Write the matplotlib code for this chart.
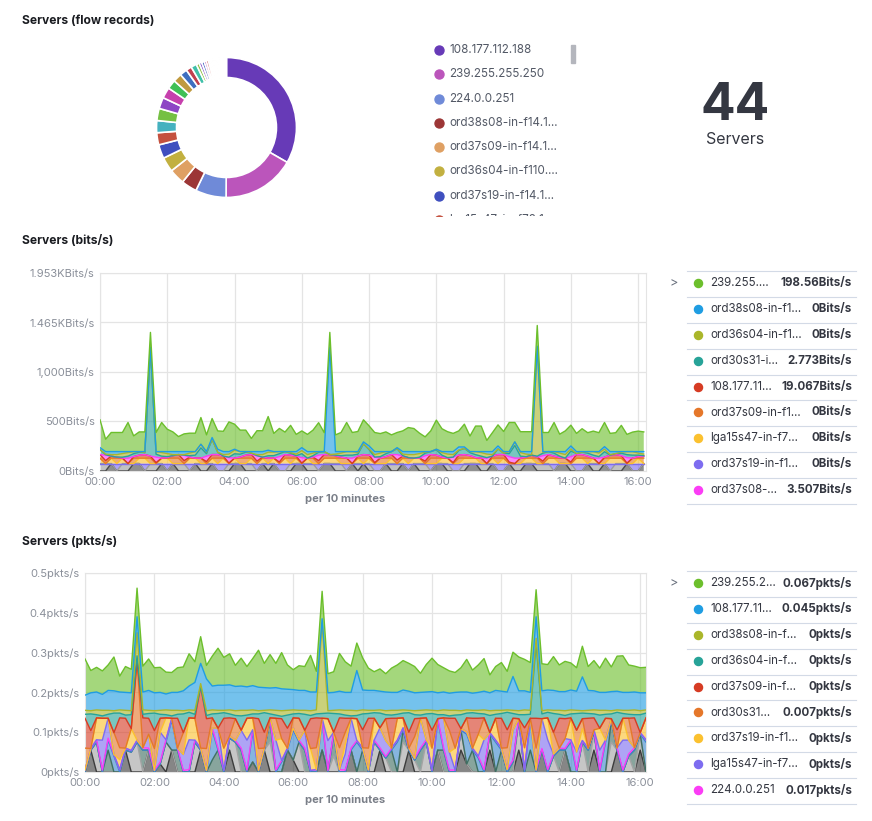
import matplotlib
matplotlib.use("Agg")
import matplotlib.pyplot as plt
import numpy as np

plt.rcParams['font.family'] = ['Inter', 'DejaVu Sans']

W, H = 872, 821
INK = '#343741'
MUTED = '#8a8f99'
GRID = '#e4e4e4'

# ---------------- donut: servers by flow records ----------------
donut_values = [33.3, 16.8, 7.1, 3.6, 3.6, 3.4, 3.2, 2.8, 2.8, 2.8, 2.6, 2.5, 2.1, 2.0, 1.7, 1.3, 1.3,
                0.7, 0.6, 0.6, 0.5, 0.5, 0.4, 0.3, 0.3,
                0.25, 0.25, 0.22, 0.2, 0.2, 0.2, 0.18, 0.18, 0.17, 0.17, 0.16, 0.15, 0.15, 0.14,
                0.13, 0.12, 0.12, 0.11, 0.1]
donut_colors = ['#673ab7', '#bb55bb', '#6f8ad8', '#9c3636', '#dfa063', '#c2b040', '#3f4fbf', '#c4513f',
                '#45b1bf', '#75c043', '#8e45c5', '#c640ad', '#40c055', '#c09a3f', '#3f6fc0', '#c0404f',
                '#40c0aa', '#8fc040', '#7a40c0', '#4060c0', '#c040a0', '#c04040', '#40b0c0', '#60c040',
                '#d0c060', '#a0c060', '#c0a040', '#6080d0', '#c060c0', '#60c0b0', '#d08060', '#80c060',
                '#9070d0', '#d06090', '#60a0d0', '#c0c060', '#70d070', '#d07070', '#7070d0', '#d0a070',
                '#70d0c0', '#b070d0', '#d0d070', '#70b0d0']
donut_legend = ['108.177.112.188', '239.255.255.250', '224.0.0.251', 'ord38s08-in-f14.1...',
                'ord37s09-in-f14.1...', 'ord36s04-in-f110....', 'ord37s19-in-f14.1...',
                'lga15s47-in-f78.1e...']
server_count = 44

# ---------------- time axis (10 minute buckets) ----------------
minutes = [i * 10 for i in range(98)]
hour_ticks = [0, 120, 240, 360, 480, 600, 720, 840, 960]
hour_labels = ['00:00', '02:00', '04:00', '06:00', '08:00', '10:00', '12:00', '14:00', '16:00']

# ---------------- bits/s series (bottom -> top of the stack) ----------------
bits_dkgray = [0, 0, 75, 0, 0, 0, 75, 75, 0, 0,
               0, 75, 0, 75, 0, 0, 0, 75, 0, 0,
               75, 0, 0, 0, 75, 75, 0, 0, 0, 75,
               0, 75, 0, 0, 0, 75, 75, 0, 0, 0,
               75, 75, 0, 0, 0, 75, 0, 75, 0, 0,
               0, 75, 0, 0, 75, 0, 75, 0, 0, 0,
               75, 75, 0, 0, 0, 0, 75, 75, 0, 0,
               75, 0, 0, 75, 0, 0, 75, 75, 0, 0,
               0, 0, 75, 75, 0, 0, 0, 75, 0, 0,
               75, 0, 0, 0, 75, 0, 0, 75]
bits_gray = [75, 75, 0, 0, 75, 75, 0, 0, 0, 75,
             75, 0, 0, 0, 75, 75, 0, 0, 75, 75,
             0, 0, 0, 75, 0, 0, 75, 75, 0, 0,
             75, 0, 0, 0, 75, 0, 0, 75, 75, 0,
             0, 0, 75, 75, 0, 0, 75, 0, 75, 0,
             0, 0, 75, 75, 0, 0, 0, 75, 75, 0,
             0, 0, 75, 0, 0, 75, 0, 0, 75, 75,
             0, 0, 0, 0, 75, 75, 0, 0, 75, 75,
             75, 0, 0, 0, 75, 0, 0, 0, 75, 75,
             0, 0, 75, 75, 0, 0, 0, 0]
bits_violet = [0, 0, 0, 75, 0, 0, 0, 0, 75, 0,
               0, 0, 75, 0, 0, 0, 75, 0, 0, 0,
               0, 75, 75, 0, 0, 0, 0, 0, 75, 0,
               0, 0, 75, 75, 0, 0, 0, 0, 0, 75,
               0, 0, 0, 0, 75, 0, 0, 0, 0, 75,
               75, 0, 0, 0, 0, 75, 0, 0, 0, 75,
               0, 0, 0, 75, 75, 0, 0, 0, 0, 0,
               0, 75, 75, 0, 0, 0, 0, 0, 0, 0,
               0, 75, 0, 0, 0, 75, 75, 0, 0, 0,
               0, 75, 0, 0, 0, 75, 75, 0]
bits_yellow = [55, 0, 55, 0, 55, 0, 0, 55, 55, 0,
               0, 55, 55, 0, 0, 0, 55, 55, 0, 0,
               55, 0, 55, 0, 55, 0, 0, 55, 0, 55,
               0, 55, 0, 55, 0, 55, 0, 55, 0, 0,
               55, 55, 55, 0, 0, 0, 55, 0, 55, 0,
               0, 0, 55, 0, 55, 0, 55, 55, 0, 0,
               0, 55, 55, 0, 0, 55, 55, 55, 0, 0,
               55, 0, 55, 0, 0, 0, 55, 55, 0, 0,
               55, 55, 0, 0, 0, 55, 55, 0, 55, 0,
               0, 55, 55, 55, 0, 0, 55, 0]
bits_orange = [0, 0, 0, 55, 0, 0, 55, 0, 0, 55,
               0, 0, 0, 55, 55, 0, 0, 0, 55, 0,
               0, 55, 0, 0, 0, 55, 55, 0, 0, 0,
               55, 0, 0, 0, 55, 0, 0, 0, 55, 0,
               0, 0, 0, 55, 55, 0, 0, 55, 0, 0,
               55, 55, 0, 0, 0, 55, 0, 0, 0, 55,
               55, 0, 0, 0, 55, 0, 0, 0, 55, 0,
               0, 55, 0, 0, 0, 55, 0, 0, 55, 0,
               0, 0, 55, 55, 0, 0, 0, 55, 0, 0,
               55, 0, 0, 0, 0, 55, 0, 55]
bits_red = [36, 30, 20, 10, 0, 0, 15, 30, 36, 20,
            10, 0, 5, 25, 36, 30, 10, 0, 0, 20,
            36, 36, 20, 5, 0, 10, 30, 36, 25, 10,
            0, 0, 15, 36, 30, 20, 5, 0, 10, 30,
            36, 36, 25, 10, 0, 0, 20, 36, 30, 10,
            0, 15, 36, 36, 20, 5, 0, 0, 25, 36,
            30, 10, 0, 10, 30, 36, 25, 5, 0, 0,
            20, 36, 36, 15, 0, 0, 10, 30, 10, 25,
            36, 20, 5, 0, 15, 36, 36, 20, 0, 0,
            10, 30, 36, 25, 5, 0, 15, 20]
bits_magenta = [0, 55, 0, 0, 0, 55, 0, 0, 0, 0,
                55, 0, 0, 0, 0, 55, 0, 0, 0, 55,
                0, 0, 0, 55, 0, 0, 0, 0, 55, 0,
                0, 0, 55, 0, 0, 0, 55, 0, 0, 55,
                0, 0, 0, 0, 0, 55, 0, 0, 0, 55,
                0, 0, 0, 55, 0, 0, 0, 0, 55, 0,
                0, 0, 0, 55, 0, 0, 0, 0, 0, 55,
                0, 0, 0, 55, 55, 0, 0, 0, 0, 55,
                0, 0, 0, 0, 55, 0, 0, 0, 0, 55,
                0, 0, 0, 0, 55, 0, 0, 0]
bits_teal = [50, 5, 0, 0, 10, 20, 30, 30, 20, 1084,
             30, 20, 10, 0, 0, 0, 15, 30, 104, 25,
             152, 24, 0, 5, 44, 30, 30, 15, 0, 0,
             24, 25, 30, 30, 20, 5, 40, 0, 15, 30,
             30, 0, 5, 15, 30, 30, 20, 108, 57, 0,
             15, 30, 30, 60, 5, 0, 0, 10, 25, 30,
             54, 20, 5, 0, 47, 62, 30, 30, 20, 5,
             0, 57, 15, 30, 128, 20, 5, 0, 10, 25,
             30, 30, 15, 0, 57, 10, 25, 30, 30, 15,
             55, 0, 10, 25, 30, 30, 15, 5]
bits_olive = [0, 6, 16, 26, 36, 36, 21, 6, 0, 16,
              26, 36, 31, 11, 0, 6, 26, 36, 36, 16,
              0, 0, 16, 31, 36, 26, 6, 0, 11, 26,
              36, 36, 21, 0, 6, 16, 31, 36, 26, 6,
              0, 0, 11, 26, 36, 36, 16, 0, 6, 26,
              36, 21, 0, 0, 16, 31, 36, 36, 11, 0,
              6, 26, 36, 26, 6, 0, 11, 31, 36, 36,
              16, 0, 0, 21, 36, 36, 26, 6, 1090, 11,
              0, 16, 31, 36, 21, 0, 0, 16, 36, 36,
              26, 6, 0, 11, 31, 36, 21, 16]
bits_blue = [20, 25, 30, 30, 20, 10, 0, 0, 10, 0,
             0, 10, 20, 30, 30, 30, 15, 0, 0, 5,
             20, 30, 30, 25, 10, 0, 0, 15, 30, 30,
             20, 5, 0, 0, 10, 25, 30, 30, 15, 0,
             0, 1084, 25, 15, 0, 0, 10, 20, 30, 30,
             15, 0, 0, 10, 25, 30, 30, 20, 5, 0,
             0, 10, 25, 30, 30, 15, 0, 0, 10, 25,
             30, 30, 15, 0, 0, 10, 25, 30, 20, 5,
             0, 0, 15, 30, 30, 20, 5, 0, 0, 15,
             25, 30, 20, 5, 0, 0, 15, 25]
bits_green = [281, 125, 193, 193, 193, 294, 159, 199, 199, 150,
              193, 294, 226, 199, 152, 179, 186, 186, 270, 169,
              192, 185, 205, 300, 253, 217, 217, 133, 211, 211,
              340, 184, 234, 197, 265, 174, 169, 174, 217, 292,
              191, 150, 169, 193, 294, 193, 203, 223, 203, 193,
              182, 199, 169, 153, 209, 243, 233, 186, 149, 209,
              294, 231, 201, 184, 162, 230, 157, 258, 258, 113,
              191, 213, 203, 294, 196, 201, 201, 201, 210, 193,
              193, 294, 176, 209, 210, 184, 231, 191, 207, 191,
              244, 184, 191, 265, 174, 197, 207, 199]

# ---------------- pkts/s series, in 1/1000 pkts/s (bottom -> top) ----------------
pk_dark = [0, 55, 0, 0, 0, 0, 0, 55, 0, 0,
           0, 55, 0, 20, 0, 55, 0, 0, 0, 0,
           55, 0, 0, 0, 0, 55, 0, 0, 0, 25,
           0, 55, 0, 0, 0, 55, 30, 0, 0, 0,
           0, 55, 0, 0, 0, 0, 55, 0, 0, 0,
           0, 55, 0, 0, 0, 0, 55, 0, 0, 0,
           0, 55, 0, 0, 0, 55, 20, 0, 0, 0,
           55, 0, 0, 0, 0, 55, 0, 0, 0, 55,
           0, 0, 0, 55, 0, 0, 0, 0, 55, 0,
           0, 0, 55, 0, 0, 0, 55, 0]
pk_gray = [0, 0, 75, 0, 0, 0, 0, 0, 50, 75,
           0, 0, 0, 0, 75, 0, 0, 0, 0, 75,
           0, 0, 0, 0, 0, 30, 75, 0, 0, 0,
           0, 0, 75, 0, 0, 0, 0, 75, 0, 0,
           0, 0, 0, 40, 0, 0, 0, 0, 0, 0,
           75, 0, 35, 0, 0, 75, 0, 30, 0, 75,
           0, 0, 0, 0, 0, 50, 0, 0, 0, 0,
           40, 0, 0, 0, 0, 75, 0, 0, 0, 0,
           0, 40, 0, 0, 0, 0, 75, 0, 45, 0,
           0, 75, 0, 0, 40, 0, 40, 0]
pk_slate = [0, 0, 0, 0, 55, 0, 0, 0, 0, 0,
            55, 0, 0, 0, 0, 0, 55, 0, 0, 0,
            0, 0, 30, 55, 0, 0, 0, 55, 0, 0,
            0, 0, 55, 0, 0, 0, 0, 0, 55, 0,
            0, 0, 0, 55, 0, 0, 0, 0, 55, 0,
            0, 0, 0, 55, 0, 30, 0, 0, 55, 0,
            0, 0, 55, 0, 0, 0, 0, 55, 0, 0,
            0, 0, 55, 0, 25, 0, 0, 55, 0, 0,
            0, 0, 55, 0, 0, 0, 0, 55, 0, 0,
            0, 55, 0, 0, 0, 55, 0, 0]
pk_steel = [0, 0, 0, 0, 25, 40, 0, 0, 0, 0,
            0, 0, 0, 0, 0, 75, 0, 0, 0, 0,
            0, 0, 75, 0, 0, 0, 0, 0, 0, 75,
            0, 0, 0, 0, 25, 0, 75, 0, 0, 0,
            0, 75, 0, 0, 0, 0, 0, 75, 0, 0,
            0, 0, 0, 0, 75, 0, 0, 0, 0, 0,
            0, 75, 0, 0, 0, 0, 75, 0, 35, 0,
            0, 75, 0, 0, 0, 0, 0, 75, 0, 0,
            0, 0, 0, 0, 75, 0, 0, 0, 0, 0,
            75, 0, 0, 0, 0, 0, 0, 75]
pk_magenta = [5, 4, 6, 5, 5, 4, 6, 5, 4, 5,
              6, 5, 4, 5, 6, 5, 5, 4, 6, 5,
              5, 4, 6, 5, 5, 6, 4, 5, 5, 6,
              4, 5, 6, 5, 4, 5, 6, 5, 5, 4,
              6, 5, 4, 5, 6, 5, 5, 4, 6, 5,
              5, 6, 4, 5, 5, 6, 5, 4, 5, 6,
              5, 4, 6, 5, 5, 4, 6, 5, 5, 6,
              4, 5, 5, 6, 5, 4, 6, 5, 5, 4,
              6, 5, 5, 4, 6, 5, 4, 5, 6, 5,
              5, 4, 6, 5, 5, 6, 4, 6]
pk_violet = [0, 0, 0, 75, 50, 0, 0, 0, 0, 0,
             0, 35, 0, 75, 0, 0, 0, 40, 75, 0,
             0, 0, 0, 50, 0, 0, 0, 45, 75, 0,
             0, 0, 0, 75, 0, 0, 0, 0, 45, 0,
             0, 0, 75, 0, 0, 40, 75, 0, 0, 0,
             0, 50, 40, 0, 0, 0, 0, 0, 75, 0,
             0, 0, 75, 45, 0, 0, 0, 0, 0, 75,
             0, 0, 0, 0, 75, 0, 0, 0, 0, 75,
             75, 0, 0, 25, 0, 45, 0, 0, 0, 50,
             0, 0, 0, 75, 35, 0, 0, 0]
pk_yellow = [0, 0, 55, 55, 0, 0, 25, 0, 55, 0,
             0, 0, 0, 0, 55, 0, 0, 0, 55, 55,
             0, 0, 0, 0, 55, 0, 0, 0, 55, 30,
             0, 0, 0, 0, 55, 0, 0, 0, 0, 55,
             0, 0, 55, 0, 0, 25, 0, 55, 0, 0,
             55, 0, 0, 0, 55, 25, 0, 0, 0, 0,
             55, 0, 0, 0, 55, 0, 0, 0, 55, 0,
             0, 55, 0, 0, 0, 0, 55, 0, 0, 0,
             55, 0, 0, 0, 55, 0, 30, 0, 0, 55,
             0, 0, 0, 55, 0, 0, 0, 55]
pk_orange = [55, 0, 0, 0, 0, 55, 30, 0, 0, 200,
             0, 0, 55, 35, 0, 0, 0, 55, 0, 0,
             0, 55, 25, 0, 0, 0, 55, 0, 0, 0,
             55, 0, 0, 55, 0, 0, 25, 55, 0, 0,
             55, 0, 0, 0, 55, 30, 0, 0, 0, 55,
             0, 0, 55, 0, 0, 0, 0, 55, 0, 55,
             0, 0, 0, 55, 0, 0, 35, 0, 0, 55,
             0, 0, 0, 55, 30, 0, 0, 0, 55, 0,
             0, 55, 0, 0, 0, 55, 25, 0, 0, 0,
             55, 0, 0, 0, 55, 0, 0, 0]
pk_red = [75, 45, 0, 0, 0, 0, 75, 75, 0, 0,
          75, 40, 45, 0, 0, 0, 75, 0, 0, 0,
          155, 75, 0, 0, 75, 45, 0, 0, 0, 0,
          75, 40, 0, 0, 50, 50, 0, 0, 0, 75,
          75, 0, 0, 0, 75, 35, 0, 0, 45, 75,
          0, 0, 0, 75, 0, 0, 40, 45, 0, 0,
          45, 0, 0, 30, 75, 0, 0, 75, 40, 0,
          0, 0, 75, 45, 0, 0, 50, 0, 75, 0,
          0, 0, 75, 50, 0, 0, 0, 75, 30, 0,
          0, 0, 45, 0, 0, 75, 0, 0]
pk_teal = [10, 42, 8, 6, 10, 49, 12, 8, 35, 12,
           9, 12, 44, 10, 8, 6, 10, 47, 14, 10,
           0, 8, 10, 37, 14, 10, 8, 36, 8, 10,
           12, 49, 10, 8, 6, 33, 10, 12, 40, 8,
           10, 12, 14, 47, 10, 8, 6, 8, 40, 12,
           14, 37, 10, 8, 10, 12, 49, 10, 8, 10,
           42, 10, 8, 6, 8, 35, 12, 14, 12, 10,
           43, 10, 12, 44, 12, 10, 33, 10, 188, 12,
           14, 47, 10, 8, 10, 42, 14, 12, 10, 33,
           10, 12, 44, 12, 10, 8, 45, 12]
pk_olive = [10, 8, 12, 14, 10, 6, 8, 12, 10, 58,
            11, 8, 6, 10, 12, 14, 10, 8, 6, 10,
            7, 12, 10, 8, 6, 10, 12, 14, 12, 10,
            8, 6, 10, 12, 14, 12, 10, 8, 10, 12,
            10, 228, 6, 8, 10, 12, 14, 12, 10, 8,
            6, 8, 10, 12, 10, 8, 6, 10, 12, 10,
            8, 10, 12, 14, 12, 10, 8, 6, 8, 10,
            12, 10, 8, 6, 8, 10, 12, 10, 13, 8,
            6, 8, 10, 12, 10, 8, 6, 8, 10, 12,
            10, 8, 6, 8, 10, 12, 10, 8]
pk_blue = [38, 45, 45, 40, 50, 50, 45, 45, 45, 40,
           45, 50, 45, 45, 40, 45, 45, 50, 60, 70,
           51, 80, 60, 63, 63, 63, 61, 61, 59, 61,
           59, 57, 55, 57, 55, 53, 51, 50, 50, 47,
           45, 10, 45, 45, 47, 45, 45, 101, 50, 50,
           50, 47, 47, 45, 45, 50, 48, 45, 45, 45,
           47, 45, 45, 43, 45, 47, 45, 43, 45, 47,
           45, 50, 48, 45, 85, 50, 48, 45, 54, 50,
           50, 50, 47, 48, 50, 48, 85, 50, 48, 45,
           45, 48, 47, 45, 45, 45, 45, 43]
pk_green = [91, 56, 62, 59, 64, 85, 40, 65, 59, 72,
            65, 79, 63, 63, 55, 50, 62, 60, 81, 52,
            67, 34, 75, 93, 70, 78, 53, 70, 51, 68,
            93, 61, 84, 61, 91, 61, 50, 62, 60, 92,
            52, 69, 48, 52, 95, 77, 66, 69, 81, 56,
            47, 56, 46, 61, 69, 74, 70, 66, 48, 69,
            84, 71, 61, 56, 50, 61, 82, 58, 69, 82,
            45, 60, 72, 52, 61, 85, 79, 75, 68, 68,
            64, 85, 67, 76, 68, 59, 77, 60, 76, 61,
            86, 62, 88, 92, 69, 65, 63, 64]

# colours of the ranked series
C_GREEN, C_BLUE, C_OLIVE, C_TEAL = '#6cbf2c', '#1f9de2', '#aab62a', '#27a398'
C_RED, C_ORANGE, C_YELLOW, C_VIOLET, C_MAGENTA = '#d63b23', '#e5772a', '#fbc12f', '#7d6cf0', '#fb3cf5'

bits_legend = [('239.255....', '198.56Bits/s', C_GREEN),
               ('ord38s08-in-f1...', '0Bits/s', C_BLUE),
               ('ord36s04-in-f1...', '0Bits/s', C_OLIVE),
               ('ord30s31-i...', '2.773Bits/s', C_TEAL),
               ('108.177.11...', '19.067Bits/s', C_RED),
               ('ord37s09-in-f1...', '0Bits/s', C_ORANGE),
               ('lga15s47-in-f7...', '0Bits/s', C_YELLOW),
               ('ord37s19-in-f1...', '0Bits/s', C_VIOLET),
               ('ord37s08-...', '3.507Bits/s', C_MAGENTA)]
pkts_legend = [('239.255.2...', '0.067pkts/s', C_GREEN),
               ('108.177.11...', '0.045pkts/s', C_BLUE),
               ('ord38s08-in-f...', '0pkts/s', C_OLIVE),
               ('ord36s04-in-f...', '0pkts/s', C_TEAL),
               ('ord37s09-in-f...', '0pkts/s', C_RED),
               ('ord30s31...', '0.007pkts/s', C_ORANGE),
               ('ord37s19-in-f1...', '0pkts/s', C_YELLOW),
               ('lga15s47-in-f7...', '0pkts/s', C_VIOLET),
               ('224.0.0.251', '0.017pkts/s', C_MAGENTA)]

bits_ticks = [0, 500, 1000, 1500, 2000]
bits_tick_labels = ['0Bits/s', '500Bits/s', '1,000Bits/s', '1.465KBits/s', '1.953KBits/s']
pkts_ticks = [0, 0.1, 0.2, 0.3, 0.4, 0.5]
pkts_tick_labels = ['0pkts/s', '0.1pkts/s', '0.2pkts/s', '0.3pkts/s', '0.4pkts/s', '0.5pkts/s']


def box(x0, y0, x1, y1):
    # pixel box (top-left origin) -> figure fraction rect
    return [x0 / W, 1 - y1 / H, (x1 - x0) / W, (y1 - y0) / H]


def area_chart(ax, layers, colors, xmax, ymax, ticks, labels):
    x = np.array(minutes)
    ys = np.vstack(layers)
    ax.stackplot(x, ys, colors=colors, alpha=0.62, linewidth=0, zorder=2)
    for top, c in zip(np.cumsum(ys, axis=0), colors):
        ax.plot(x, top, color=c, lw=1.0, zorder=3)
    ax.set_xlim(0, xmax)
    ax.set_ylim(0, ymax)
    ax.set_xticks(hour_ticks)
    ax.set_xticklabels(hour_labels)
    ax.set_yticks(ticks)
    ax.set_yticklabels(labels)
    ax.tick_params(length=0, labelsize=8, labelcolor=MUTED, pad=4)
    ax.grid(True, color=GRID, lw=0.9, zorder=0)
    ax.set_axisbelow(True)
    for s in ax.spines.values():
        s.set_color(GRID)


fig = plt.figure(figsize=(W / 100, H / 100), dpi=100)

# donut
ax_d = fig.add_axes(box(151.5, 52.5, 301.5, 202.5))
ax_d.pie(donut_values, colors=donut_colors, startangle=90, counterclock=False, radius=0.933,
         wedgeprops=dict(width=0.267, edgecolor='white', linewidth=1.2))
ax_d.set_xlim(-1, 1)
ax_d.set_ylim(-1, 1)
ax_d.set_aspect('equal')
ax_d.axis('off')

# donut legend (scroll box, last row cut off)
ax_l = fig.add_axes(box(430, 38, 580, 216))
ax_l.set_xlim(430, 580)
ax_l.set_ylim(216, 38)
ax_l.axis('off')
for i, (name, col) in enumerate(zip(donut_legend, donut_colors)):
    yy = 50 + i * 24.3
    ax_l.scatter([439], [yy], s=42, color=col, clip_on=True, zorder=3)
    ax_l.text(449, yy, name, fontsize=8.4, color='#535966', va='center', ha='left', clip_on=True)
ax_l.add_patch(plt.Rectangle((571, 45), 4, 18, color='#b4b6bd', clip_on=False))

# bits/s chart
ax_b = fig.add_axes(box(100, 273, 646, 471))
area_chart(ax_b,
           [bits_dkgray, bits_gray, bits_violet, bits_yellow, bits_orange, bits_red,
            bits_magenta, bits_teal, bits_olive, bits_blue, bits_green],
           ['#4a4a4a', '#9c9c9c', C_VIOLET, C_YELLOW, C_ORANGE, C_RED,
            C_MAGENTA, C_TEAL, C_OLIVE, C_BLUE, C_GREEN],
           974, 2000, bits_ticks, bits_tick_labels)

# pkts/s chart
ax_p = fig.add_axes(box(85, 573, 646, 772))
pk_layers = [pk_dark, pk_gray, pk_slate, pk_steel, pk_magenta, pk_violet, pk_yellow,
             pk_orange, pk_red, pk_teal, pk_olive, pk_blue, pk_green]
area_chart(ax_p, [np.array(v) / 1000 for v in pk_layers],
           ['#3c3c3c', '#a3a3a3', '#3f6f62', '#3c88cc', C_MAGENTA, C_VIOLET, C_YELLOW,
            C_ORANGE, C_RED, C_TEAL, C_OLIVE, C_BLUE, C_GREEN],
           970, 0.5, pkts_ticks, pkts_tick_labels)

# overlay in pixel coordinates for titles, metric and legend tables
ov = fig.add_axes([0, 0, 1, 1])
ov.set_xlim(0, W)
ov.set_ylim(H, 0)
ov.axis('off')

for ty, title in [(21, 'Servers (flow records)'), (241, 'Servers (bits/s)'), (542, 'Servers (pkts/s)')]:
    ov.text(22, ty, title, fontsize=8.7, fontweight='bold', color='#1a1c21', va='center')

ov.text(735, 107, str(server_count), fontsize=37, fontweight='bold', color=INK, ha='center', va='center')
ov.text(735, 139, 'Servers', fontsize=11.5, color=INK, ha='center', va='center')

ov.text(345, 499, 'per 10 minutes', fontsize=8, fontweight='bold', color='#7a7f88', ha='center', va='center')
ov.text(345, 800, 'per 10 minutes', fontsize=8, fontweight='bold', color='#7a7f88', ha='center', va='center')


def legend_table(rows, y_first_line):
    step = 25.9
    ov.text(674, y_first_line + 12, '>', fontsize=9, color='#69707d', ha='center', va='center')
    for i in range(len(rows) + 1):
        yl = y_first_line + i * step
        ov.plot([687, 856], [yl, yl], color='#d3dae6', lw=0.8)
    for i, (name, val, col) in enumerate(rows):
        yy = y_first_line + 12 + i * step
        ov.scatter([698], [yy], s=34, color=col, zorder=3)
        ov.text(710, yy, name, fontsize=8.3, color=INK, ha='left', va='center')
        ov.text(852, yy, val, fontsize=8.3, fontweight='bold', color=INK, ha='right', va='center')


legend_table(bits_legend, 271)
legend_table(pkts_legend, 571)

fig.savefig('out.png', dpi=100)
